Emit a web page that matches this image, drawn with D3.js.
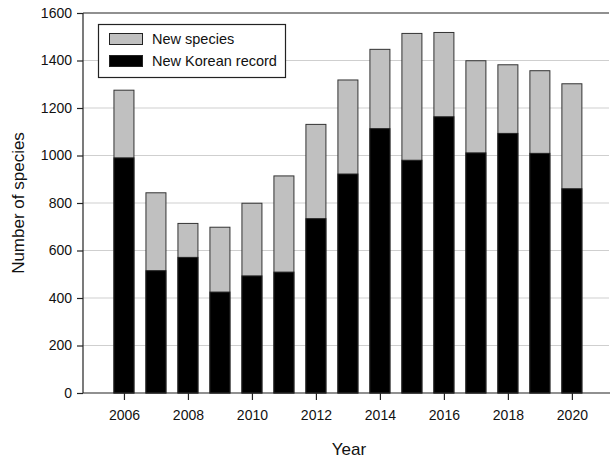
<!DOCTYPE html>
<html>
<head>
<meta charset="utf-8">
<script src="https://cdn.jsdelivr.net/npm/d3@7/dist/d3.min.js"></script>
<style>
  html, body { margin: 0; padding: 0; background: #fff; }
  svg { display: block; font-family: Arial, "Liberation Sans", sans-serif; }
</style>
</head>
<body>
<svg id="chart" width="610" height="458"></svg>
<script>
// Species records per year
const years = [2006, 2007, 2008, 2009, 2010, 2011, 2012, 2013, 2014, 2015, 2016, 2017, 2018, 2019, 2020];
const newKoreanRecord = [990, 515, 571, 425, 493, 509, 734, 922, 1113, 980, 1163, 1011, 1093, 1009, 860];
const newSpecies = [285, 328, 143, 273, 306, 405, 397, 396, 334, 534, 355, 388, 289, 348, 442];
const yTicks = [0, 200, 400, 600, 800, 1000, 1200, 1400, 1600];
const xTicks = [2006, 2008, 2010, 2012, 2014, 2016, 2018, 2020];
const seriesNames = ["New species", "New Korean record"];

const svg = d3.select("#chart");
const plotL = 83, plotR = 609, plotT = 13, plotB = 393;

const x = d3.scaleLinear().domain([2004.72, 2021.16]).range([plotL, plotR]);
const y = d3.scaleLinear().domain([0, 1600]).range([plotB, plotT]);
const barW = 20;

// Gridlines
svg.append("g")
  .selectAll("line")
  .data(yTicks.filter(d => d > 0 && d < 1600))
  .join("line")
  .attr("x1", plotL).attr("x2", plotR)
  .attr("y1", d => y(d)).attr("y2", d => y(d))
  .attr("stroke", "#cfcfcf").attr("stroke-width", 1.2);

// Top frame line
svg.append("line")
  .attr("x1", plotL).attr("x2", plotR)
  .attr("y1", y(1600)).attr("y2", y(1600))
  .attr("stroke", "#222").attr("stroke-width", 1.2);

// Stacked bars
const rows = years.map((yr, i) => ({ yr, base: newKoreanRecord[i], extra: newSpecies[i] }));
const bars = svg.append("g");
bars.selectAll("rect.total")
  .data(rows)
  .join("rect")
  .attr("class", "total")
  .attr("x", d => x(d.yr) - barW / 2)
  .attr("width", barW)
  .attr("y", d => y(d.base + d.extra))
  .attr("height", d => y(0) - y(d.base + d.extra))
  .attr("fill", "#c0c0c0")
  .attr("stroke", "#333").attr("stroke-width", 1);
bars.selectAll("rect.base")
  .data(rows)
  .join("rect")
  .attr("class", "base")
  .attr("x", d => x(d.yr) - barW / 2)
  .attr("width", barW)
  .attr("y", d => y(d.base))
  .attr("height", d => y(0) - y(d.base))
  .attr("fill", "#000")
  .attr("stroke", "#222").attr("stroke-width", 1);

// Axes
const yAxis = svg.append("g")
  .attr("transform", `translate(${plotL},0)`)
  .call(d3.axisLeft(y).tickValues(yTicks).tickSize(6).tickPadding(5).tickFormat(d3.format("d")));
const xAxis = svg.append("g")
  .attr("transform", `translate(0,${plotB})`)
  .call(d3.axisBottom(x).tickValues(xTicks).tickSize(7).tickPadding(10).tickFormat(d3.format("d")));
[yAxis, xAxis].forEach(a => {
  a.select(".domain").attr("stroke", "#222").attr("stroke-width", 1.2);
  a.selectAll(".tick line").attr("stroke", "#222").attr("stroke-width", 1.2);
  a.selectAll(".tick text").attr("fill", "#111").style("font-size", "14px")
    .style("font-family", "Arial, 'Liberation Sans', sans-serif");
});
// Plain axis lines across the plot
xAxis.select(".domain").attr("d", `M${plotL},0H${plotR + 1}`);
yAxis.select(".domain").attr("d", `M0,${plotT}V${plotB}`);

// Axis titles
svg.append("text")
  .attr("x", 349).attr("y", 455)
  .attr("text-anchor", "middle")
  .style("font-size", "17px").attr("fill", "#111")
  .text("Year");
svg.append("text")
  .attr("transform", `translate(24,${(plotT + plotB) / 2}) rotate(-90)`)
  .attr("text-anchor", "middle")
  .style("font-size", "17px").attr("fill", "#111")
  .text("Number of species");

// Legend
const lg = svg.append("g");
lg.append("rect")
  .attr("x", 98.5).attr("y", 24.5).attr("width", 187).attr("height", 53)
  .attr("fill", "#fff").attr("stroke", "#222").attr("stroke-width", 1.2);
const legendFills = ["#c0c0c0", "#000"];
seriesNames.forEach((name, i) => {
  const cy = 39 + i * 22;
  lg.append("rect")
    .attr("x", 109.5).attr("y", cy - 5.5).attr("width", 33).attr("height", 11)
    .attr("fill", legendFills[i]).attr("stroke", "#222").attr("stroke-width", 1);
  lg.append("text")
    .attr("x", 152).attr("y", cy + 5)
    .style("font-size", "14.5px").attr("fill", "#111")
    .text(name);
});
</script>
</body>
</html>
